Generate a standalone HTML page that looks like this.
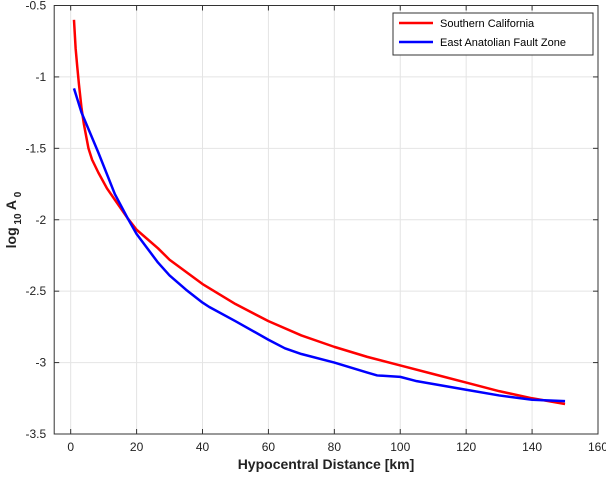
<!DOCTYPE html>
<html><head><meta charset="utf-8"><style>
body{margin:0;background:#fff}
svg{font-family:"Liberation Sans",sans-serif}
</style></head><body>
<svg id="c" width="606" height="474"></svg>
<script>
const xTicks=[0,20,40,60,80,100,120,140,160];
const yTicks=[-0.5,-1,-1.5,-2,-2.5,-3,-3.5];
const yTickLabels=["-0.5","-1","-1.5","-2","-2.5","-3","-3.5"];
const redX=[1,1.5,2,2.5,3.3,4,5.4,6.5,8.4,11,13.4,17.3,20,26.5,30,40,50,60,70,80,90,100,110,120,130,140,150];
const redY=[-0.6,-0.8,-0.93,-1.05,-1.22,-1.33,-1.5,-1.58,-1.67,-1.78,-1.86,-1.99,-2.07,-2.2,-2.28,-2.45,-2.59,-2.71,-2.81,-2.89,-2.96,-3.02,-3.08,-3.14,-3.2,-3.25,-3.29];
const blueX=[1,3.3,8.4,13.4,17.3,20,26.5,30,35,40,42,50,60,65,70,80,90,93,100,105,110,120,130,140,150];
const blueY=[-1.08,-1.25,-1.53,-1.82,-1.99,-2.1,-2.3,-2.39,-2.49,-2.58,-2.61,-2.71,-2.84,-2.9,-2.94,-3.0,-3.07,-3.09,-3.1,-3.13,-3.15,-3.19,-3.23,-3.26,-3.27];
const L=54.2,R=598,T=5.5,B=434;
const sx=v=>L+(v+5)/165*(R-L);
const sy=v=>T+(-0.5-v)/3*(B-T);
const svg=document.getElementById('c');
const NS='http://www.w3.org/2000/svg';
function mk(t,a,p){const e=document.createElementNS(NS,t);for(const k in a)e.setAttribute(k,a[k]);(p||svg).appendChild(e);return e;}
mk('rect',{x:L,y:T,width:R-L,height:B-T,fill:'#fff'});
xTicks.forEach(v=>{
 const g=mk('line',{x1:sx(v),x2:sx(v),y1:T,y2:B,stroke:'#e4e4e4','stroke-width':1});
 
 
 mk('line',{x1:sx(v),x2:sx(v),y1:B,y2:B-5,stroke:'#333'});
 mk('line',{x1:sx(v),x2:sx(v),y1:T,y2:T+5,stroke:'#333'});
 const t=mk('text',{x:sx(v),y:B+17,'text-anchor':'middle','font-size':12,fill:'#222'});t.textContent=v;
 
 
});
yTicks.forEach((v,i)=>{
 const g=mk('line',{x1:L,x2:R,y1:sy(v),y2:sy(v),stroke:'#e4e4e4','stroke-width':1});
 
 
 mk('line',{x1:L,x2:L+5,y1:sy(v),y2:sy(v),stroke:'#333'});
 mk('line',{x1:R,x2:R-5,y1:sy(v),y2:sy(v),stroke:'#333'});
 const t=mk('text',{x:L-8,y:sy(v)+4,'text-anchor':'end','font-size':12,fill:'#222'});t.textContent=yTickLabels[i];
 
 
});
mk('rect',{x:L,y:T,width:R-L,height:B-T,fill:'none',stroke:'#333','stroke-width':1});
function line(xs,ys,col,name){
 const p=mk('polyline',{points:xs.map((x,i)=>sx(x)+','+sy(ys[i])).join(' '),fill:'none',stroke:col,'stroke-width':2.5,'stroke-linejoin':'round'});
 
 
}
line(redX,redY,'#f00','southern-california-line');
line(blueX,blueY,'#00f','east-anatolian-line');
</script>
<svg width="606" height="474" style="position:absolute;left:0;top:0;font-family:'Liberation Sans',sans-serif">
<g>
<rect x="393" y="13" width="200" height="42" fill="#fff" stroke="#333"/>
<line x1="399" y1="23" x2="433" y2="23" stroke="#f00" stroke-width="2.5"/>
<text x="440" y="27" font-size="11">Southern California</text>
<line x1="399" y1="42" x2="433" y2="42" stroke="#00f" stroke-width="2.5"/>
<text x="440" y="46" font-size="11">East Anatolian Fault Zone</text>
</g>
<text x="326" y="469" text-anchor="middle" font-size="14" font-weight="bold" fill="#222">Hypocentral Distance [km]</text>
<text transform="translate(16,220) rotate(-90)" text-anchor="middle" font-size="14" font-weight="bold" fill="#222">log<tspan font-size="10" dy="5"> 10</tspan><tspan dy="-5">  A</tspan><tspan font-size="10" dy="5"> 0</tspan></text>
</svg>
</body></html>
